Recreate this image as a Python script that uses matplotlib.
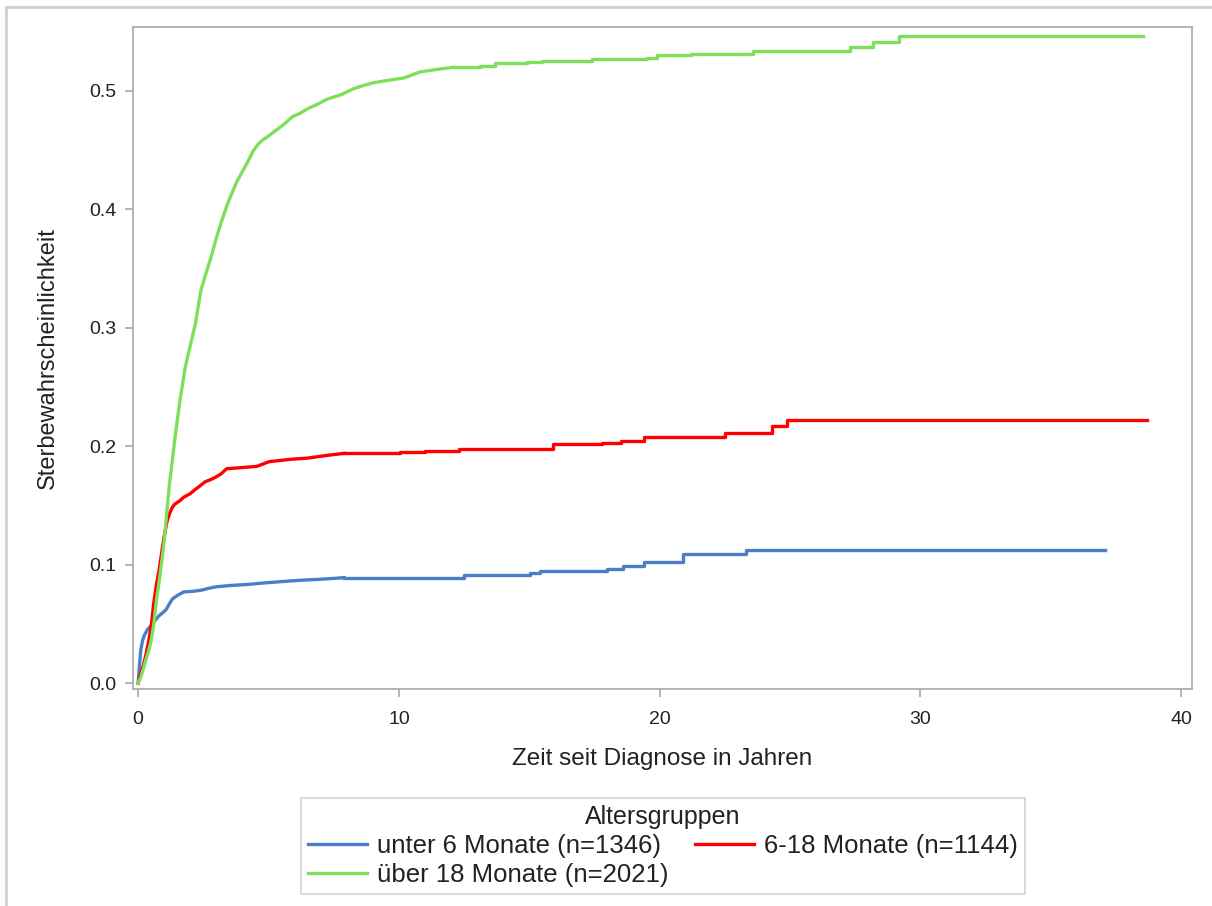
import matplotlib.pyplot as plt
from matplotlib.lines import Line2D

plt.rcParams['font.family'] = ['Liberation Sans', 'DejaVu Sans']

# Kumulative Sterbewahrscheinlichkeit
t_unter6 = [0, 0.05, 0.1, 0.17, 0.24, 0.35, 0.51, 0.65, 0.79, 0.92, 1.06, 1.2, 1.31, 1.5,
            1.75, 2.1, 2.43, 2.7, 2.98, 3.6, 4.2, 4.8, 5.44, 6.2, 7.09, 7.9, 12.5, 15.03,
            15.4, 17.97, 18.6, 19.4, 20.9, 23.3, 37.08]
p_unter6 = [0, 0.015, 0.028, 0.036, 0.0405, 0.045, 0.049, 0.053, 0.0566, 0.059, 0.0617,
            0.067, 0.071, 0.074, 0.077, 0.0775, 0.0785, 0.080, 0.0813, 0.0825, 0.0833,
            0.0845, 0.0856, 0.0868, 0.0878, 0.089, 0.0912, 0.0926, 0.0946, 0.096, 0.0988,
            0.1025, 0.1087, 0.1123, 0.1123]

t_6bis18 = [0, 0.1, 0.2, 0.3, 0.4, 0.5, 0.6, 0.7, 0.8, 0.9, 1.0, 1.1, 1.2, 1.3, 1.4, 1.6,
            1.75, 2.0, 2.16, 2.4, 2.57, 2.8, 2.98, 3.2, 3.39, 4.0, 4.55, 5.03, 5.86, 6.5,
            7.36, 7.9, 10.03, 11.0, 12.3, 15.9, 17.8, 18.5, 19.4, 22.5, 24.3, 24.9, 38.7]
p_6bis18 = [0, 0.008, 0.015, 0.024, 0.035, 0.048, 0.068, 0.083, 0.095, 0.11, 0.124, 0.136,
            0.143, 0.148, 0.151, 0.154, 0.157, 0.160, 0.163, 0.167, 0.170, 0.172, 0.174,
            0.177, 0.181, 0.182, 0.183, 0.187, 0.189, 0.190, 0.1926, 0.194, 0.195, 0.196,
            0.198, 0.2016, 0.203, 0.2047, 0.2075, 0.2114, 0.217, 0.2221, 0.2221]

t_ueber18 = [0, 0.1, 0.2, 0.3, 0.4, 0.5, 0.6, 0.7, 0.8, 0.9, 1.0, 1.1, 1.2, 1.3, 1.4, 1.5,
             1.6, 1.7, 1.8, 1.9, 2.0, 2.2, 2.4, 2.6, 2.8, 3.0, 3.2, 3.4, 3.6, 3.8, 4.0, 4.2,
             4.4, 4.6, 4.8, 5.0, 5.3, 5.6, 5.9, 6.2, 6.5, 6.9, 7.24, 7.8, 8.27, 8.7, 9.04,
             9.6, 10.2, 10.8, 11.4, 12.1, 13.1, 13.7, 14.9, 15.5, 17.4, 19.5, 19.9, 21.2,
             23.6, 27.3, 28.2, 29.2, 38.55]
p_ueber18 = [0, 0.005, 0.012, 0.02, 0.027, 0.036, 0.05, 0.07, 0.085, 0.102, 0.12, 0.145,
             0.168, 0.186, 0.205, 0.222, 0.238, 0.252, 0.266, 0.276, 0.285, 0.304, 0.331,
             0.346, 0.36, 0.376, 0.39, 0.403, 0.414, 0.424, 0.432, 0.440, 0.449, 0.455,
             0.459, 0.462, 0.467, 0.472, 0.478, 0.481, 0.485, 0.489, 0.493, 0.497, 0.502,
             0.505, 0.507, 0.509, 0.511, 0.516, 0.518, 0.520, 0.5214, 0.5233, 0.5245,
             0.5256, 0.5268, 0.528, 0.530, 0.5315, 0.5338, 0.5374, 0.5417, 0.5467, 0.5467]

# bis zu diesen Zeitpunkten wirkt die Kurve glatt, danach Treppenstufen
glatt_bis = [7.9, 7.9, 12.1]

labels = ['unter 6 Monate (n=1346)', '6-18 Monate (n=1144)', 'über 18 Monate (n=2021)']
colors = ['#4A7EC8', '#FF0000', '#7EE05A']

fig = plt.figure(figsize=(12.12, 9.06), dpi=100)
ax = fig.add_axes([0.1097, 0.2395, 0.8738, 0.7307])

handles = []
for t, p, g, c, lab in zip([t_unter6, t_6bis18, t_ueber18],
                           [p_unter6, p_6bis18, p_ueber18],
                           glatt_bis, colors, labels):
    k = t.index(g)
    h, = ax.plot(t[:k + 1], p[:k + 1], color=c, lw=2.4, label=lab,
                 solid_joinstyle='round')
    ax.step(t[k:], p[k:], where='post', color=c, lw=2.4)
    handles.append(h)
h1, h2, h3 = handles

ax.set_xlim(-0.2, 40.42)
ax.set_ylim(-0.005, 0.554)
ax.set_xticks([0, 10, 20, 30, 40])
ax.set_yticks([0.0, 0.1, 0.2, 0.3, 0.4, 0.5])
ax.set_yticklabels(['0.0', '0.1', '0.2', '0.3', '0.4', '0.5'])

for s in ax.spines.values():
    s.set_color('#A8A8A8')
    s.set_linewidth(1.2)
ax.tick_params(colors='#A8A8A8', labelcolor='#222222', length=6, width=1.2,
               labelsize=14, pad=6)
ax.tick_params(axis='x', pad=10)

ax.set_xlabel('Zeit seit Diagnose in Jahren', fontsize=17.5, color='#222222', labelpad=14)
ax.set_ylabel('Sterbewahrscheinlichkeit', fontsize=17, color='#222222', labelpad=22)

# Reihenfolge so, dass die Legende zeilenweise gefüllt wird
leg = fig.legend([h1, h3, h2], [labels[0], labels[2], labels[1]], ncol=2,
                 loc='upper center', bbox_to_anchor=(0.547, 0.1195),
                 borderaxespad=0, title='Altersgruppen', fontsize=18.5,
                 title_fontsize=18, fancybox=False, edgecolor='#C8C8C8',
                 handlelength=2.3, columnspacing=1.0, labelspacing=0.2,
                 borderpad=0.28, handletextpad=0.4)
leg.get_frame().set_linewidth(1.2)
for txt in leg.get_texts() + [leg.get_title()]:
    txt.set_color('#222222')

# grauer Rahmen der Grafik (oben und links)
fig.add_artist(Line2D([0.005, 1.0], [0.9925, 0.9925], color='#D0D0D0', lw=2))
fig.add_artist(Line2D([0.005, 0.005], [0.0, 0.9925], color='#D0D0D0', lw=2))

fig.savefig('out.png', dpi=100)
